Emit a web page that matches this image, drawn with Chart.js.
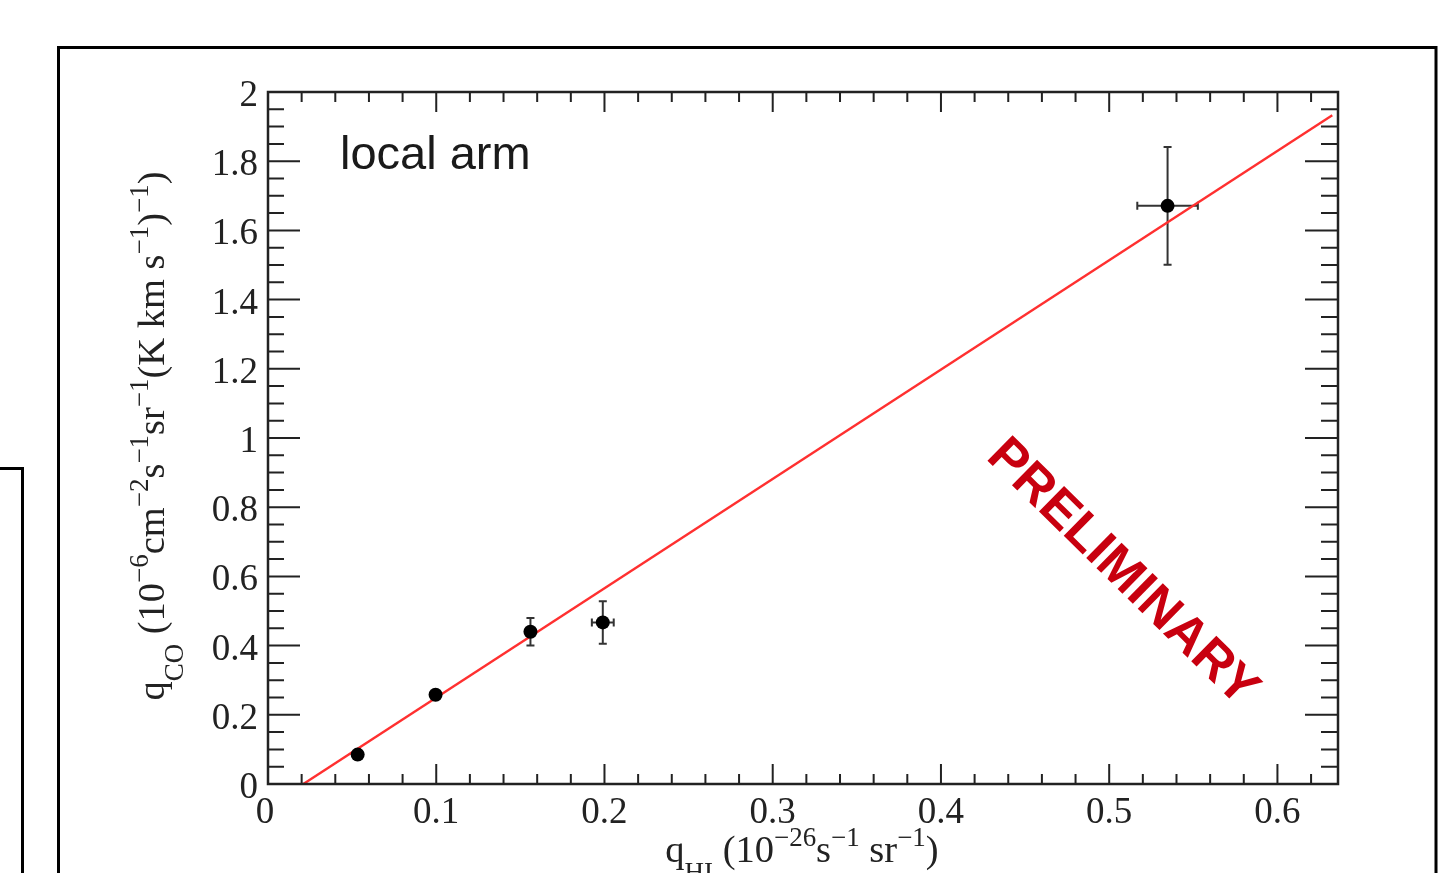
<!DOCTYPE html>
<html>
<head>
<meta charset="utf-8">
<script src="https://cdn.jsdelivr.net/npm/chart.js@4.4.1/dist/chart.umd.min.js"></script>
<style>
  html, body { margin: 0; padding: 0; background: #fff; }
  canvas { display: block; }
</style>
</head>
<body>
<canvas id="myChart" width="1439" height="873"></canvas>
<script>
// values
const qHI = [0.0533, 0.0996, 0.156, 0.199, 0.5347];
const qCO = [0.085, 0.258, 0.440, 0.467, 1.671];
const errHI = [0, 0, 0, 0.0065, 0.018];
const errCO = [0, 0, 0.040, 0.0615, 0.170];

// fitted line (end points)
const fitHI = [0.021, 0.6326];
const fitCO = [0, 1.933];

// axis ticks
const xTickValues = [0, 0.1, 0.2, 0.3, 0.4, 0.5, 0.6];
const xTickLabels = ['0', '0.1', '0.2', '0.3', '0.4', '0.5', '0.6'];
const yTickValues = [0, 0.2, 0.4, 0.6, 0.8, 1, 1.2, 1.4, 1.6, 1.8, 2];
const yTickLabels = ['0', '0.2', '0.4', '0.6', '0.8', '1', '1.2', '1.4', '1.6', '1.8', '2'];
const xMinorStep = 0.02;
const yMinorStep = 0.05;

const xTitle = [['q', 'n'], ['HI', 'sub'], [' (10', 'n'], ['\u221226', 'sup'], ['s', 'n'], ['\u22121', 'sup'], [' sr', 'n'], ['\u22121', 'sup'], [')', 'n']];
const yTitle = [['q', 'n'], ['CO', 'sub'], [' (10', 'n'], ['\u22126', 'sup'], ['cm', 'n'], ['\u22122', 'sup'], ['s', 'n'], ['\u22121', 'sup'], ['sr', 'n'], ['\u22121', 'sup'], ['(K km s', 'n'], ['\u22121', 'sup'], [')', 'n'], ['\u22121', 'sup'], [')', 'n']];

const serif = s => s + 'px "Liberation Serif", "Times New Roman", serif';

// draws a label with sub/superscripts, centred on (cx, cy)
function richText(c, parts, size, cx, cy, angle) {
  let total = 0;
  const widths = parts.map(([t, k]) => {
    c.font = serif(k === 'n' ? size : size * 0.7);
    const w = c.measureText(t).width;
    total += w;
    return w;
  });
  c.save();
  c.translate(cx, cy);
  c.rotate(angle);
  c.textAlign = 'left';
  c.textBaseline = 'alphabetic';
  let x = -total / 2;
  parts.forEach(([t, k], i) => {
    c.font = serif(k === 'n' ? size : size * 0.7);
    const dy = k === 'sup' ? -0.42 * size : k === 'sub' ? 0.5 * size : 0;
    c.fillText(t, x, dy);
    x += widths[i];
  });
  c.restore();
}

const rootFrame = {
  id: 'rootFrame',
  beforeDraw(chart) {
    const c = chart.ctx;
    c.save();
    c.fillStyle = '#fff';
    c.fillRect(0, 0, chart.width, chart.height);
    c.strokeStyle = '#000';
    c.lineWidth = 3;
    c.strokeRect(58.5, 47.5, 1377.5, 900);
    c.beginPath();
    c.moveTo(0, 468.5);
    c.lineTo(22.5, 468.5);
    c.lineTo(22.5, 900);
    c.stroke();
    c.restore();
  },
  beforeDatasetsDraw(chart) {
    const c = chart.ctx, xs = chart.scales.x, ys = chart.scales.y;
    c.save();
    c.strokeStyle = '#333';
    c.lineWidth = 2;
    const cap = 4;
    qHI.forEach((xv, i) => {
      const px = xs.getPixelForValue(xv), py = ys.getPixelForValue(qCO[i]);
      if (errCO[i] > 0) {
        const y1 = ys.getPixelForValue(qCO[i] + errCO[i]), y2 = ys.getPixelForValue(qCO[i] - errCO[i]);
        c.beginPath();
        c.moveTo(px, y1); c.lineTo(px, y2);
        c.moveTo(px - cap, y1); c.lineTo(px + cap, y1);
        c.moveTo(px - cap, y2); c.lineTo(px + cap, y2);
        c.stroke();
      }
      if (errHI[i] > 0) {
        const x1 = xs.getPixelForValue(xv - errHI[i]), x2 = xs.getPixelForValue(xv + errHI[i]);
        c.beginPath();
        c.moveTo(x1, py); c.lineTo(x2, py);
        c.moveTo(x1, py - cap); c.lineTo(x1, py + cap);
        c.moveTo(x2, py - cap); c.lineTo(x2, py + cap);
        c.stroke();
      }
    });
    c.restore();
  },
  afterDraw(chart) {
    const c = chart.ctx, xs = chart.scales.x, ys = chart.scales.y;
    const a = chart.chartArea;
    c.save();
    c.strokeStyle = '#222';
    c.lineWidth = 2;

    // ticks: bottom and top
    c.beginPath();
    for (let i = 0; i * xMinorStep <= xs.max + 1e-9; i++) {
      const px = xs.getPixelForValue(i * xMinorStep);
      const len = i % 5 === 0 ? 20 : 10;
      c.moveTo(px, a.bottom); c.lineTo(px, a.bottom - len);
      c.moveTo(px, a.top); c.lineTo(px, a.top + len);
    }
    // ticks: left and right
    for (let i = 0; i * yMinorStep <= ys.max + 1e-9; i++) {
      const py = ys.getPixelForValue(i * yMinorStep);
      const major = i % 4 === 0;
      c.moveTo(a.left, py); c.lineTo(a.left + (major ? 32 : 16), py);
      c.moveTo(a.right, py); c.lineTo(a.right - (major ? 33 : 17), py);
    }
    c.stroke();

    // frame
    c.lineWidth = 2.5;
    c.strokeRect(a.left, a.top, a.right - a.left, a.bottom - a.top);

    // tick labels
    c.fillStyle = '#222';
    c.font = serif(37);
    c.textBaseline = 'alphabetic';
    c.textAlign = 'center';
    xTickValues.forEach((v, i) => c.fillText(xTickLabels[i], xs.getPixelForValue(v) - (i === 0 ? 3 : 0), 823));
    c.textAlign = 'right';
    yTickValues.forEach((v, i) => c.fillText(yTickLabels[i], 258, ys.getPixelForValue(v) + 14));

    // axis titles
    richText(c, xTitle, 38.5, 802, 862, 0);
    richText(c, yTitle, 38.5, 164, 436, -Math.PI / 2);

    // annotations
    c.fillStyle = '#1a1a1a';
    c.textAlign = 'left';
    c.font = '47px "Liberation Sans", Arial, sans-serif';
    c.fillText('local arm', 340, 169);

    c.save();
    c.translate(1122, 573);
    c.rotate(44.5 * Math.PI / 180);
    c.fillStyle = '#c8000f';
    c.font = 'bold 52px "Liberation Sans", Arial, sans-serif';
    c.textAlign = 'center';
    c.textBaseline = 'middle';
    c.fillText('PRELIMINARY', 0, 0);
    c.restore();

    c.restore();
  }
};

const ctx = document.getElementById('myChart').getContext('2d');
new Chart(ctx, {
  type: 'scatter',
  data: {
    datasets: [
      {
        label: 'data',
        data: qHI.map((x, i) => ({ x: x, y: qCO[i] })),
        pointRadius: 7,
        pointBackgroundColor: '#000',
        pointBorderWidth: 0,
        order: 0
      },
      {
        label: 'fit',
        type: 'line',
        data: fitHI.map((x, i) => ({ x: x, y: fitCO[i] })),
        borderColor: '#ff3030',
        borderWidth: 2.4,
        pointRadius: 0,
        fill: false,
        order: 1
      }
    ]
  },
  options: {
    responsive: false,
    animation: false,
    devicePixelRatio: 1,
    layout: { padding: { left: 268, top: 92, right: 101, bottom: 89 } },
    plugins: { legend: { display: false }, tooltip: { enabled: false } },
    scales: {
      x: { type: 'linear', min: 0, max: 0.636, display: false },
      y: { type: 'linear', min: 0, max: 2, display: false }
    }
  },
  plugins: [rootFrame]
});
</script>
</body>
</html>
